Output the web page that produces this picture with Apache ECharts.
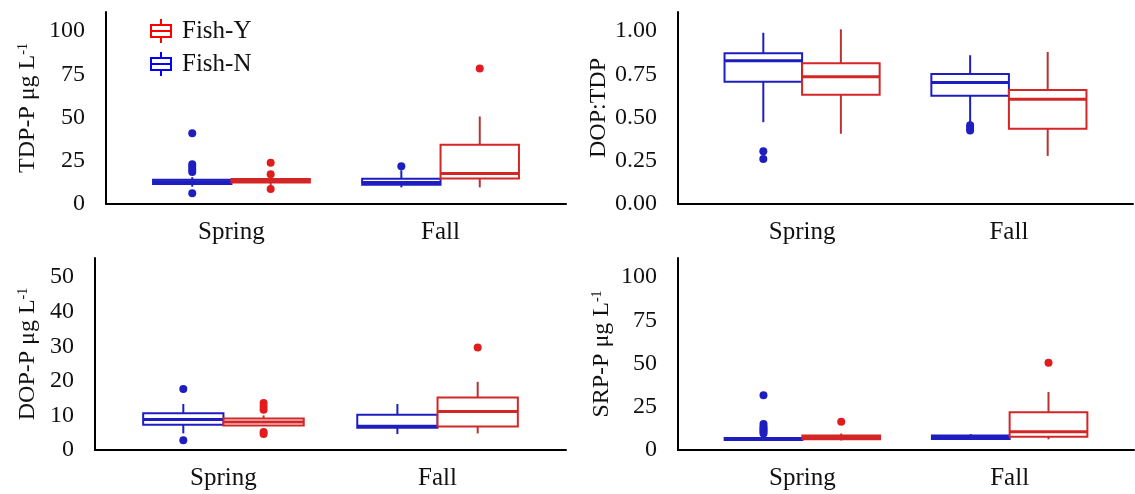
<!DOCTYPE html>
<html><head><meta charset="utf-8">
<script src="https://cdn.jsdelivr.net/npm/echarts@6/dist/echarts.min.js"></script>
<style>html,body{margin:0;padding:0;background:#fff}#c{width:1135px;height:494px}</style>
</head><body><div id="c"></div>
<script>
// ---------- data ----------
const seasons = ['Spring', 'Fall'];
const groupNames = ['Fish-Y', 'Fish-N'];

// box stats per season: [min, Q1, median, Q3, max]
const tdpN = [[10, 11.5, 12.8, 14, 15.5], [9.6, 11.2, 12.5, 14.6, 19.5]];
const tdpY = [[10.5, 12.5, 13.5, 14.5, 16], [9.6, 14.7, 17.6, 34.2, 50.6]];
const tdpOutN = [[40.9, 23, 21.5, 20, 18.5, 6.2], [21.8]];
const tdpOutY = [[23.9, 17.2, 8.6], [78.3]];
const tdpTicks = [0, 25, 50, 75, 100];

const ratioN = [[0.473, 0.707, 0.828, 0.872, 0.99], [0.47, 0.626, 0.703, 0.751, 0.86]];
const ratioY = [[0.406, 0.632, 0.736, 0.814, 1.01], [0.278, 0.435, 0.605, 0.659, 0.879]];
const ratioOutN = [[0.305, 0.26], [0.455, 0.44, 0.425]];
const ratioOutY = [[], []];
const ratioTicks = [0, 0.25, 0.5, 0.75, 1];

const dopN = [[4.8, 7.3, 8.8, 10.6, 13.3], [4.6, 6.4, 6.9, 10.2, 13.3]];
const dopY = [[7.0, 7.1, 8.1, 9.1, 10], [4.8, 6.8, 11.1, 15.2, 19.7]];
const dopOutN = [[17.6, 2.8], []];
const dopOutY = [[13.6, 12.6, 11.6, 5.2, 4.6], [29.6]];
const dopTicks = [0, 10, 20, 30, 40, 50];

const srpN = [[5.5, 5.8, 6.4, 7.0, 8.0], [6, 6.4, 7.4, 8.4, 9.2]];
const srpY = [[5.5, 6.2, 7.2, 8.4, 9.5], [6.2, 7.6, 10.5, 21.8, 33.5]];
const srpOutN = [[31.6, 15, 13.5, 12.5, 11.5, 10.5, 9.5], []];
const srpOutY = [[16.4], [50.5]];
const srpTicks = [0, 25, 50, 75, 100];

// ---------- layout / style ----------
const FONT = 'Liberation Serif';
const HALF = 0.1875;
const BLUE = '#1e1ec0', RED = '#d42626', RED_W = '#b43434';
const panels = [
  {title: 'TDP-P μg L', sup: true, ticks: tdpTicks, max: 111, dec: 0, N: tdpN, Y: tdpY, oN: tdpOutN, oY: tdpOutY,
   L: 106, R: 566, top: 12, gap: 66},
  {title: 'DOP:TDP', sup: false, ticks: ratioTicks, max: 1.11, dec: 2, N: ratioN, Y: ratioY, oN: ratioOutN, oY: ratioOutY,
   L: 678, R: 1133, top: 12, gap: 64},
  {title: 'DOP-P μg L', sup: true, ticks: dopTicks, max: 55.5, dec: 0, N: dopN, Y: dopY, oN: dopOutN, oY: dopOutY,
   L: 95, R: 566, top: 258, gap: 55},
  {title: 'SRP-P μg L', sup: true, ticks: srpTicks, max: 111, dec: 0, N: srpN, Y: srpY, oN: srpOutN, oY: srpOutY,
   L: 678, R: 1134, top: 258, gap: 64}
];

function boxRender(side, color, wcolor) {
  return function (params, api) {
    const c = api.value(0) + side * HALF;
    const l = api.coord([c - HALF, 0])[0];
    const r = api.coord([c + HALF, 0])[0];
    const xm = api.coord([c, 0])[0];
    const y = i => api.coord([c, api.value(i)])[1];
    const yMin = y(1), yQ1 = y(2), yMed = y(3), yQ3 = y(4), yMax = y(5);
    return {type: 'group', children: [
      {type: 'line', shape: {x1: xm, y1: yMax, x2: xm, y2: yQ3}, style: {stroke: wcolor, lineWidth: 2}},
      {type: 'line', shape: {x1: xm, y1: yQ1, x2: xm, y2: yMin}, style: {stroke: wcolor, lineWidth: 2}},
      {type: 'rect', shape: {x: l, y: yQ3, width: r - l, height: yQ1 - yQ3}, style: {fill: '#fff', stroke: color, lineWidth: 2}},
      {type: 'line', shape: {x1: l, y1: yMed, x2: r, y2: yMed}, style: {stroke: color, lineWidth: 3}}
    ]};
  };
}

const grids = [], xAxes = [], yAxes = [], series = [];
panels.forEach((p, k) => {
  grids.push({left: p.L, right: 1135 - p.R, top: p.top, height: 192, containLabel: false});
  xAxes.push({
    type: 'value', gridIndex: k, min: -0.6, max: 1.6,
    axisLine: {show: true, onZero: false, lineStyle: {color: '#000', width: 2}},
    axisTick: {show: false}, splitLine: {show: false},
    axisLabel: {customValues: [0, 1], formatter: v => seasons[Math.round(v)],
      fontFamily: FONT, fontSize: 25, color: '#111', margin: 16}
  });
  yAxes.push({
    type: 'value', gridIndex: k, min: 0, max: p.max,
    name: p.sup ? p.title + '{sup|-1}' : p.title,
    nameLocation: 'middle', nameGap: p.gap, nameRotate: 90,
    nameTextStyle: {fontFamily: FONT, fontSize: 24, color: '#111',
      rich: {sup: {fontFamily: FONT, fontSize: 14, color: '#111', verticalAlign: 'top', padding: [0, 0, 8, 0]}}},
    axisLine: {show: true, onZero: false, lineStyle: {color: '#000', width: 2}},
    axisTick: {show: false}, splitLine: {show: false},
    axisLabel: {customValues: p.ticks, formatter: v => v.toFixed(p.dec),
      fontFamily: FONT, fontSize: 24, color: '#111', margin: 21}
  });
  const boxData = arr => arr.map((b, i) => [i].concat(b));
  const outData = (arr, side) => {
    const out = [];
    arr.forEach((vals, i) => vals.forEach(v => out.push([i + side * HALF, v])));
    return out;
  };
  series.push({
    type: 'custom', name: 'Fish-N', xAxisIndex: k, yAxisIndex: k, clip: false,
    encode: {x: 0, y: [1, 2, 3, 4, 5]}, itemStyle: {color: BLUE},
    renderItem: boxRender(-1, BLUE, BLUE), data: boxData(p.N), z: 2
  });
  series.push({
    type: 'custom', name: 'Fish-Y', xAxisIndex: k, yAxisIndex: k, clip: false,
    encode: {x: 0, y: [1, 2, 3, 4, 5]}, itemStyle: {color: RED},
    renderItem: boxRender(1, RED, RED_W), data: boxData(p.Y), z: 2
  });
  series.push({
    type: 'scatter', name: 'Fish-N', xAxisIndex: k, yAxisIndex: k, symbolSize: 8,
    itemStyle: {color: BLUE, opacity: 1}, data: outData(p.oN, -1), z: 3, silent: true
  });
  series.push({
    type: 'scatter', name: 'Fish-Y', xAxisIndex: k, yAxisIndex: k, symbolSize: 8,
    itemStyle: {color: '#e01c1c', opacity: 1}, data: outData(p.oY, 1), z: 3, silent: true
  });
});

const ICON = 'path://M10,0L10,6M0,6L20,6L20,18L0,18ZM0,12L20,12M10,18L10,24';
const chart = echarts.init(document.getElementById('c'), null, {renderer: 'canvas'});
chart.setOption({
  animation: false,
  backgroundColor: '#fff',
  textStyle: {fontFamily: FONT},
  grid: grids, xAxis: xAxes, yAxis: yAxes, series: series,
  legend: {
    orient: 'vertical', left: 145, top: 13, itemWidth: 32, itemHeight: 24, itemGap: 7,
    selectedMode: false,
    textStyle: {fontFamily: FONT, fontSize: 25, color: '#111'},
    data: [
      {name: groupNames[0], icon: ICON, itemStyle: {color: '#fff', borderColor: '#ff0000', borderWidth: 2}},
      {name: groupNames[1], icon: ICON, itemStyle: {color: '#fff', borderColor: '#0000ff', borderWidth: 2}}
    ]
  }
});
</script></body></html>
